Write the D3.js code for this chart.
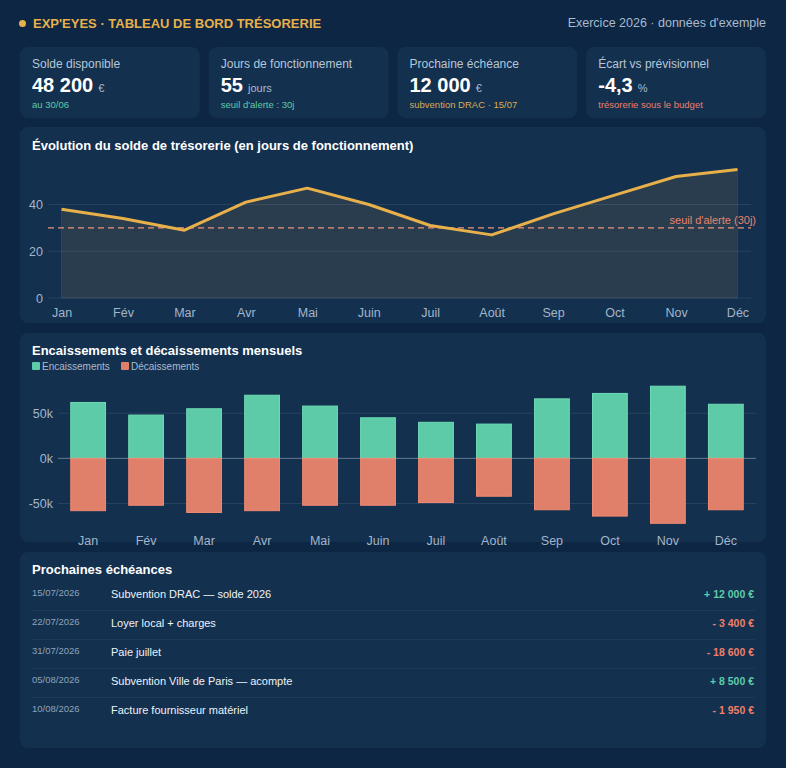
<!DOCTYPE html>
<html>
<head>
<meta charset="utf-8">
<script src="https://cdn.jsdelivr.net/npm/d3@7"></script>
<style>
  html, body { margin: 0; padding: 0; background: #0c2644; }
  svg { display: block; font-family: "Liberation Sans", Arial, sans-serif; }
</style>
</head>
<body>
<div class="chart"></div>
<script>
const width = 786
const height = 768

// data
const months = ["Jan", "Fév", "Mar", "Avr", "Mai", "Juin", "Juil", "Août", "Sep", "Oct", "Nov", "Déc"]
const soldeJours = [38, 34, 29, 41, 47, 40, 31, 27, 36, 44, 52, 55]
const seuil = 30
const encaissements = [62000, 48000, 55000, 70000, 58000, 45000, 40000, 38000, 66000, 72000, 80000, 60000]
const decaissements = [-58000, -52000, -60000, -58000, -52000, -52000, -49000, -42000, -57000, -64000, -72000, -57000]
const lineTicks = [0, 20, 40]
const barTicks = [-50000, 0, 50000]

const kpiLabels = ["Solde disponible", "Jours de fonctionnement", "Prochaine échéance", "Écart vs prévisionnel"]
const kpiValues = ["48 200", "55", "12 000", "-4,3"]
const kpiUnits = ["€", "jours", "€", "%"]
const kpiNotes = ["au 30/06", "seuil d'alerte : 30j", "subvention DRAC · 15/07", "trésorerie sous le budget"]
const kpiTones = ["pos", "pos", "warn", "neg"]

const echeanceDates = ["15/07/2026", "22/07/2026", "31/07/2026", "05/08/2026", "10/08/2026"]
const echeanceLabels = ["Subvention DRAC — solde 2026", "Loyer local + charges", "Paie juillet", "Subvention Ville de Paris — acompte", "Facture fournisseur matériel"]
const echeanceMontants = [12000, -3400, -18600, 8500, -1950]

const colors = {
  bg: "#0c2644",
  card: "#13304f",
  gold: "#e8b04a",
  teal: "#5ecba8",
  salmon: "#e0806b",
  text: "#ffffff",
  muted: "#a9bbce",
  axis: "#a3b5c9",
  grid: "rgba(255,255,255,0.09)"
}
const toneColor = { pos: "#5ecba8", warn: "#d9ad55", neg: "#ee7f68" }

const svg = d3.select(".chart").append("svg")
    .attr("width", width)
    .attr("height", height)

svg.append("rect").attr("width", width).attr("height", height).attr("fill", colors.bg)

// header
svg.append("circle").attr("cx", 22.5).attr("cy", 23.5).attr("r", 3.5).attr("fill", colors.gold)
svg.append("text")
    .attr("x", 33).attr("y", 28)
    .attr("fill", colors.gold)
    .attr("font-size", 13).attr("font-weight", "bold")
    .text("EXP'EYES · TABLEAU DE BORD TRÉSORERIE")
svg.append("text")
    .attr("x", 766).attr("y", 27)
    .attr("text-anchor", "end")
    .attr("fill", colors.muted)
    .attr("font-size", 12.5)
    .text("Exercice 2026 · données d'exemple")

function card(x, y, w, h) {
  return svg.append("rect")
      .attr("x", x).attr("y", y).attr("width", w).attr("height", h)
      .attr("rx", 8).attr("fill", colors.card)
}

// KPI cards
const kpiX = d3.scaleBand().domain(d3.range(4)).range([20, 775]).paddingInner(0)
kpiLabels.forEach((label, i) => {
  const x0 = kpiX(i)
  const w = kpiX.bandwidth() - 9
  card(x0, 47, w, 71)
  svg.append("text").attr("x", x0 + 12).attr("y", 68)
      .attr("fill", "#b7c6d7").attr("font-size", 12).text(label)
  const v = svg.append("text").attr("x", x0 + 12).attr("y", 92)
  v.append("tspan").attr("fill", colors.text).attr("font-size", 20).attr("font-weight", "bold").text(kpiValues[i])
  v.append("tspan").attr("dx", 5).attr("fill", colors.muted).attr("font-size", 11).text(kpiUnits[i])
  svg.append("text").attr("x", x0 + 12).attr("y", 108)
      .attr("fill", toneColor[kpiTones[i]]).attr("font-size", 9.5).text(kpiNotes[i])
})

// line chart
card(20, 127, 746, 196)
svg.append("text").attr("x", 32).attr("y", 150)
    .attr("fill", colors.text).attr("font-size", 13).attr("font-weight", "bold")
    .text("Évolution du solde de trésorerie (en jours de fonctionnement)")

const lx = d3.scalePoint().domain(months).range([48, 751]).padding(0.22)
const ly = d3.scaleLinear().domain([0, d3.max(soldeJours) * 1.05]).range([298, 163])

const lg = svg.append("g")
lg.selectAll(".grid").data(lineTicks).join("line")
    .attr("x1", 48).attr("x2", 751)
    .attr("y1", d => ly(d)).attr("y2", d => ly(d))
    .attr("stroke", colors.grid)
lg.append("g")
    .attr("transform", "translate(48,0)")
    .call(d3.axisLeft(ly).tickValues(lineTicks).tickSize(0).tickPadding(5))
    .call(g => g.select(".domain").remove())
    .call(g => g.selectAll("text").attr("fill", colors.axis).attr("font-size", 12.5).attr("font-family", "Liberation Sans, Arial, sans-serif"))
lg.append("g")
    .attr("transform", "translate(0,298)")
    .call(d3.axisBottom(lx).tickSize(0).tickPadding(10))
    .call(g => g.select(".domain").remove())
    .call(g => g.selectAll("text").attr("fill", colors.axis).attr("font-size", 12.5).attr("font-family", "Liberation Sans, Arial, sans-serif"))

const area = d3.area().x((d, i) => lx(months[i])).y0(ly(0)).y1(d => ly(d))
lg.append("path").datum(soldeJours)
    .attr("d", area)
    .attr("fill", "rgba(232,176,74,0.1)")
    .attr("stroke", "rgba(255,255,255,0.08)")

lg.append("line")
    .attr("x1", 48).attr("x2", 751)
    .attr("y1", ly(seuil)).attr("y2", ly(seuil))
    .attr("stroke", "#f0907a").attr("stroke-width", 1.3).attr("stroke-dasharray", "6,4")
lg.append("text")
    .attr("x", 756).attr("y", ly(seuil) - 4)
    .attr("text-anchor", "end")
    .attr("fill", "#e8836f").attr("font-size", 11)
    .text("seuil d'alerte (30j)")

const line = d3.line().x((d, i) => lx(months[i])).y(d => ly(d))
lg.append("path").datum(soldeJours)
    .attr("d", line)
    .attr("fill", "none")
    .attr("stroke", colors.gold).attr("stroke-width", 3)
    .attr("stroke-linejoin", "round")

// bar chart
card(20, 333, 746, 209)
svg.append("text").attr("x", 32).attr("y", 355)
    .attr("fill", colors.text).attr("font-size", 13).attr("font-weight", "bold")
    .text("Encaissements et décaissements mensuels")

const legend = [["Encaissements", colors.teal, 32], ["Décaissements", colors.salmon, 121]]
legend.forEach(([name, c, x]) => {
  svg.append("rect").attr("x", x).attr("y", 362).attr("width", 8).attr("height", 8).attr("rx", 1).attr("fill", c)
  svg.append("text").attr("x", x + 10).attr("y", 370)
      .attr("fill", colors.muted).attr("font-size", 10).text(name)
})

const bx = d3.scaleBand().domain(months).range([58, 756]).paddingInner(0.4).paddingOuter(0.22)
const by = d3.scaleLinear().domain([-75000, 88000]).range([526, 379])

const bg = svg.append("g")
bg.selectAll(".grid").data(barTicks).join("line")
    .attr("x1", 58).attr("x2", 756)
    .attr("y1", d => by(d)).attr("y2", d => by(d))
    .attr("stroke", d => d === 0 ? "rgba(190,210,230,0.45)" : colors.grid)
bg.append("g")
    .attr("transform", "translate(58,0)")
    .call(d3.axisLeft(by).tickValues(barTicks).tickSize(0).tickPadding(5).tickFormat(d => (d / 1000) + "k"))
    .call(g => g.select(".domain").remove())
    .call(g => g.selectAll("text").attr("fill", colors.axis).attr("font-size", 12.5).attr("font-family", "Liberation Sans, Arial, sans-serif"))
bg.append("g")
    .attr("transform", "translate(0,526)")
    .call(d3.axisBottom(bx).tickSize(0).tickPadding(10))
    .call(g => g.select(".domain").remove())
    .call(g => g.selectAll("text").attr("fill", colors.axis).attr("font-size", 12.5).attr("font-family", "Liberation Sans, Arial, sans-serif"))

bg.selectAll(".enc").data(encaissements).join("rect")
    .attr("x", (d, i) => bx(months[i]))
    .attr("width", bx.bandwidth())
    .attr("y", d => by(d))
    .attr("height", d => by(0) - by(d))
    .attr("fill", colors.teal)
    .attr("stroke", "#6ddcb4").attr("stroke-width", 1)
bg.selectAll(".dec").data(decaissements).join("rect")
    .attr("x", (d, i) => bx(months[i]))
    .attr("width", bx.bandwidth())
    .attr("y", by(0))
    .attr("height", d => by(d) - by(0))
    .attr("fill", colors.salmon)
    .attr("stroke", "#f08a72").attr("stroke-width", 1)

// table
card(20, 552, 746, 196)
svg.append("text").attr("x", 32).attr("y", 574)
    .attr("fill", colors.text).attr("font-size", 13).attr("font-weight", "bold")
    .text("Prochaines échéances")

const ry = d3.scaleBand().domain(d3.range(echeanceDates.length)).range([580, 725])
const fmt = d3.formatLocale({ decimal: ",", thousands: " ", grouping: [3], currency: ["", " €"] }).format(",.0f")
echeanceDates.forEach((date, i) => {
  const y0 = ry(i)
  const mid = y0 + 14
  if (i > 0) {
    svg.append("line").attr("x1", 32).attr("x2", 755).attr("y1", y0 + 1.5).attr("y2", y0 + 1.5)
        .attr("stroke", "rgba(255,255,255,0.05)")
  }
  svg.append("text").attr("x", 32).attr("y", mid + 2)
      .attr("fill", "#8fa3b9").attr("font-size", 9.5).text(date)
  svg.append("text").attr("x", 111).attr("y", mid + 4)
      .attr("fill", "#eef3f8").attr("font-size", 11).text(echeanceLabels[i])
  const m = echeanceMontants[i]
  svg.append("text").attr("x", 754).attr("y", mid + 4)
      .attr("text-anchor", "end")
      .attr("fill", m >= 0 ? colors.teal : "#ee7f68")
      .attr("font-size", 10.5).attr("font-weight", "bold")
      .text((m >= 0 ? "+ " : "- ") + fmt(Math.abs(m)) + " €")
})
</script>
</body>
</html>
